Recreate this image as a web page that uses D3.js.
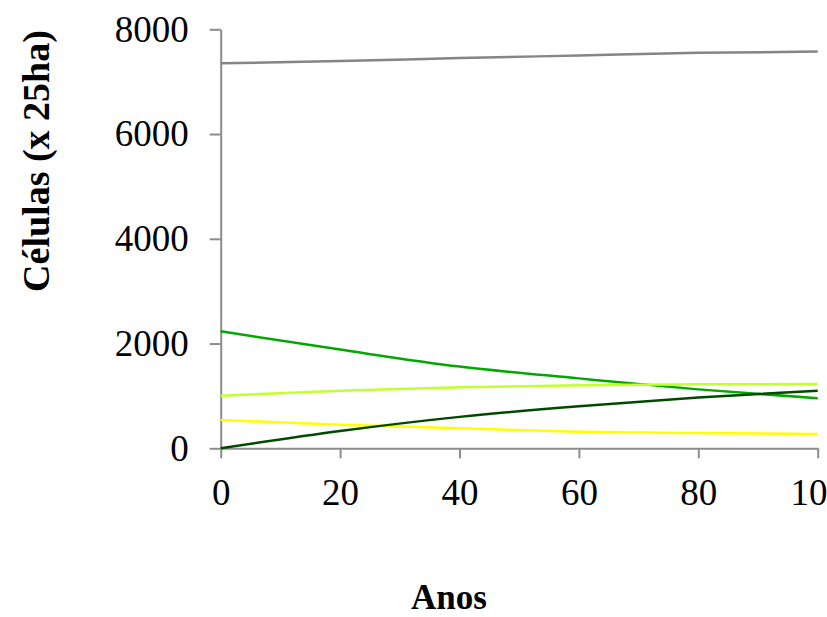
<!DOCTYPE html>
<html>
<head>
<meta charset="utf-8">
<script src="https://cdn.jsdelivr.net/npm/d3@7"></script>
<style>
  html, body { margin: 0; padding: 0; background: #fff; overflow: hidden; }
  svg { display: block; }
</style>
</head>
<body>
<div id="vue"></div>
<script>
// valeurs
var anos = [0, 20, 40, 60, 80, 100];
var cinza = [7350, 7395, 7450, 7500, 7550, 7575];
var verde = [2234, 1885, 1560, 1335, 1125, 955];
var verdeClaro = [1004, 1100, 1165, 1205, 1222, 1228];
var amarelo = [540, 452, 385, 318, 293, 273];
var verdeEscuro = [0, 330, 600, 805, 970, 1100];
var yTicks = [0, 2000, 4000, 6000, 8000];
var xTicks = [0, 20, 40, 60, 80, 100];

var series = [
  { nome: "cinza", valores: cinza, cor: "#858585" },
  { nome: "verde", valores: verde, cor: "#00a800" },
  { nome: "verdeClaro", valores: verdeClaro, cor: "#c2ff2e" },
  { nome: "amarelo", valores: amarelo, cor: "#ffff00" },
  { nome: "verdeEscuro", valores: verdeEscuro, cor: "#004a00" }
];

var width = 827, height = 617;
var gauche = 220.7, droite = 817.7, haut = 29.3, bas = 448.3;

var svg = d3.select("#vue").append("svg")
  .attr("width", width)
  .attr("height", height);

var x = d3.scaleLinear().domain([0, 100]).range([gauche, droite]);
var y = d3.scaleLinear().domain([0, 8000]).range([bas, haut]);

var axisCor = "#8c8c8c";
var fmt = d3.format("d");

// axe vertical
var gy = svg.append("g")
  .attr("transform", "translate(" + gauche + ",0)")
  .call(d3.axisLeft(y).tickValues(yTicks).tickFormat(fmt)
    .tickSize(11).tickSizeOuter(0).tickPadding(21));

// axe horizontal
var gx = svg.append("g")
  .attr("transform", "translate(0," + bas + ")")
  .call(d3.axisBottom(x).tickValues(xTicks).tickFormat(fmt)
    .tickSize(10).tickSizeOuter(0).tickPadding(20));

[gy, gx].forEach(function (g) {
  g.select(".domain").attr("stroke", axisCor).attr("stroke-width", 2);
  g.selectAll(".tick line").attr("stroke", axisCor).attr("stroke-width", 2);
  g.selectAll(".tick text")
    .attr("fill", "#000")
    .style("font-family", "'Liberation Serif', 'Times New Roman', serif")
    .style("font-size", "37px");
});

// lignes
var line = d3.line()
  .x(function (d, i) { return x(anos[i]); })
  .y(function (d) { return y(d); })
  .curve(d3.curveMonotoneX);

svg.append("g").selectAll("path")
  .data(series)
  .enter()
  .append("path")
  .attr("d", function (s) { return line(s.valores); })
  .attr("fill", "none")
  .attr("stroke", function (s) { return s.cor; })
  .attr("stroke-width", 2.5);

// titres
svg.append("text")
  .attr("transform", "translate(49,161) rotate(-90)")
  .attr("text-anchor", "middle")
  .style("font-family", "'Liberation Serif', 'Times New Roman', serif")
  .style("font-size", "38px")
  .style("font-weight", "bold")
  .text("Células (x 25ha)");

svg.append("text")
  .attr("x", 449)
  .attr("y", 609)
  .attr("text-anchor", "middle")
  .style("font-family", "'Liberation Serif', 'Times New Roman', serif")
  .style("font-size", "35px")
  .style("font-weight", "bold")
  .text("Anos");
</script>
</body>
</html>
